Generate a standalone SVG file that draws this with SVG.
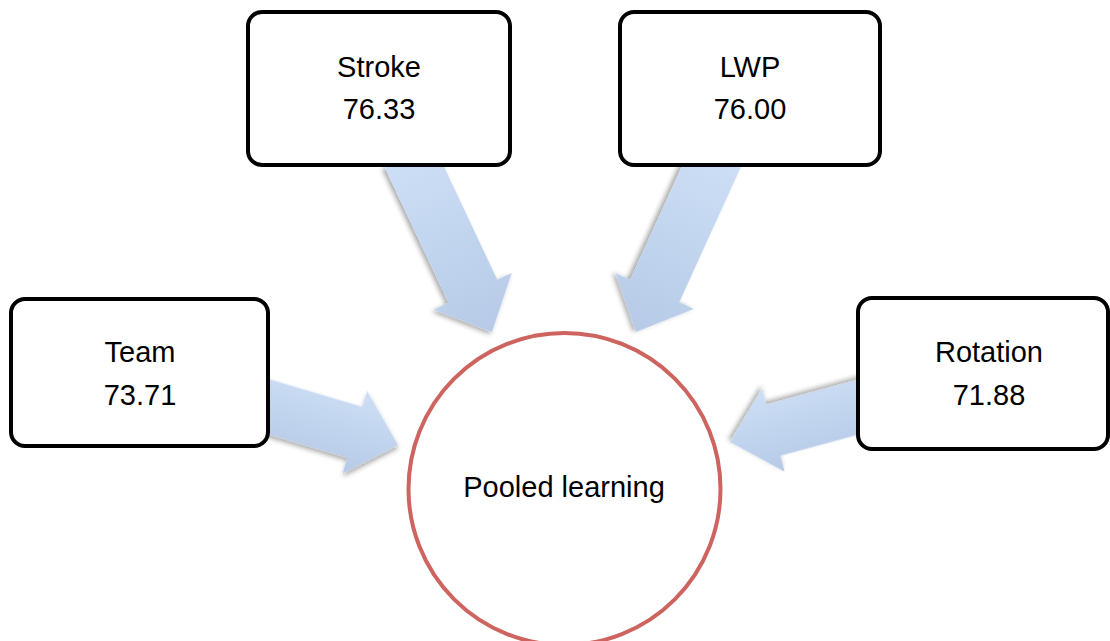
<svg xmlns="http://www.w3.org/2000/svg" width="1110" height="641" viewBox="0 0 1110 641">
  <defs>
    <linearGradient id="gradAlong" x1="0" y1="0" x2="1" y2="0">
      <stop offset="0" stop-color="#cddff6"/>
      <stop offset="1" stop-color="#b6cae7"/>
    </linearGradient>
    <linearGradient id="gradDown" x1="0" y1="0" x2="0" y2="1">
      <stop offset="0" stop-color="#cddff6"/>
      <stop offset="1" stop-color="#b6cae7"/>
    </linearGradient>
    <linearGradient id="gradUp" x1="0" y1="1" x2="0" y2="0">
      <stop offset="0" stop-color="#cddff6"/>
      <stop offset="1" stop-color="#b6cae7"/>
    </linearGradient>
    <filter id="shadow" x="-20%" y="-20%" width="140%" height="140%">
      <feGaussianBlur in="SourceAlpha" stdDeviation="2.5"/>
      <feOffset dx="1" dy="3" result="b"/>
      <feComponentTransfer><feFuncA type="linear" slope="0.35"/></feComponentTransfer>
      <feMerge><feMergeNode/><feMergeNode in="SourceGraphic"/></feMerge>
    </filter>
  </defs>
  <style>
    .box { fill: #ffffff; stroke: #000000; stroke-width: 4; }
    .arrow { filter: url(#shadow); }
    .lbl { font-family: "Liberation Sans", Arial, sans-serif; font-size: 29px; fill: #000000; text-anchor: middle; }
    .hub { fill: #ffffff; stroke: #cd645f; stroke-width: 4; }
  </style>
  <rect width="1110" height="641" fill="#ffffff"/>

  <g id="connectors">
    <path class="arrow" fill="url(#gradAlong)" transform="translate(492,332) rotate(64.8)" d="M -195 -27 L -45 -27 L -45 -43 L 0 0 L -45 43 L -45 27 L -195 27 Z"/>
    <path class="arrow" fill="url(#gradAlong)" transform="translate(636,332) rotate(114.5)" d="M -195 -27 L -45 -27 L -45 -43 L 0 0 L -45 43 L -45 27 L -195 27 Z"/>
    <path class="arrow" fill="url(#gradDown)" transform="translate(398,445) rotate(16.5)" d="M -150 -26.5 L -45 -26.5 L -45 -43 L 0 0 L -45 43 L -45 26.5 L -150 26.5 Z"/>
    <path class="arrow" fill="url(#gradUp)" transform="translate(730,442) rotate(164.8)" d="M -150 -26.5 L -45 -26.5 L -45 -43 L 0 0 L -45 43 L -45 26.5 L -150 26.5 Z"/>
  </g>

  <g id="node-stroke">
    <rect class="box" x="248" y="12" width="262" height="153" rx="14" ry="14"/>
    <text class="lbl" x="379" y="77">Stroke</text>
    <text class="lbl" x="379" y="119">76.33</text>
  </g>
  <g id="node-lwp">
    <rect class="box" x="620" y="12" width="260" height="153" rx="14" ry="14"/>
    <text class="lbl" x="750" y="77">LWP</text>
    <text class="lbl" x="750" y="119">76.00</text>
  </g>
  <g id="node-team">
    <rect class="box" x="11" y="299" width="257" height="147" rx="14" ry="14"/>
    <text class="lbl" x="140" y="362">Team</text>
    <text class="lbl" x="140" y="405">73.71</text>
  </g>
  <g id="node-rotation">
    <rect class="box" x="858" y="298" width="250" height="151" rx="14" ry="14"/>
    <text class="lbl" x="989" y="362">Rotation</text>
    <text class="lbl" x="989" y="405">71.88</text>
  </g>
  <g id="node-pooled">
    <circle class="hub" cx="564.5" cy="489" r="156"/>
    <text class="lbl" x="564" y="497">Pooled learning</text>
  </g>
</svg>
